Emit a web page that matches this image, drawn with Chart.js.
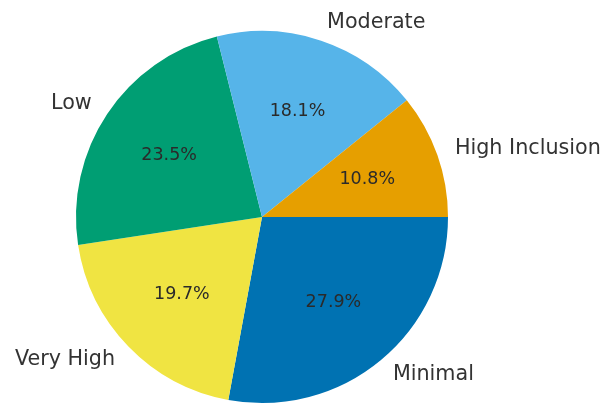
<!DOCTYPE html>
<html>
<head>
<meta charset="utf-8">
<script src="https://cdn.jsdelivr.net/npm/chart.js@4.4.1/dist/chart.umd.min.js"></script>
<style>
  html, body { margin: 0; padding: 0; background: #fff; }
  canvas { display: block; }
</style>
</head>
<body>
<canvas id="chart1" width="604" height="404"></canvas>
<script>
// slices listed counter-clockwise starting from 3 o'clock
const categories = ['High Inclusion', 'Moderate', 'Low', 'Very High', 'Minimal'];
const shares = [10.8, 18.1, 23.5, 19.7, 27.9];
const colors = ['#E69F00', '#56B4E9', '#009E73', '#F0E442', '#0072B2'];

// Chart.js goes clockwise, so feed the slices in reverse
const labels = categories.slice().reverse();
const values = shares.slice().reverse();
const fills = colors.slice().reverse();

const sliceText = {
  id: 'sliceText',
  afterDatasetsDraw(chart) {
    const ctx = chart.ctx;
    const arcs = chart.getDatasetMeta(0).data;
    ctx.save();
    arcs.forEach((arc, i) => {
      const mid = (arc.startAngle + arc.endAngle) / 2;
      const r = arc.outerRadius;
      const cos = Math.cos(mid), sin = Math.sin(mid);

      // percentage inside the slice
      ctx.font = '17.5px "DejaVu Sans"';
      ctx.fillStyle = '#2a2a2a';
      ctx.textAlign = 'center';
      ctx.textBaseline = 'middle';
      ctx.fillText(values[i].toFixed(1) + '%', arc.x + cos * r * 0.6, arc.y + sin * r * 0.6);

      // category name outside
      ctx.font = '20.7px "DejaVu Sans"';
      ctx.fillStyle = '#333';
      ctx.textAlign = cos >= 0 ? 'left' : 'right';
      ctx.fillText(labels[i], arc.x + cos * r * 1.1, arc.y + sin * r * 1.1);
    });
    ctx.restore();
  }
};

const ctx1 = document.getElementById('chart1').getContext('2d');

new Chart(ctx1, {
  type: 'pie',
  data: {
    labels: labels,
    datasets: [{
      data: values,
      backgroundColor: fills,
      borderWidth: 0
    }]
  },
  options: {
    responsive: false,
    animation: false,
    rotation: 90, // start at 3 o'clock
    layout: {
      padding: { left: 76, right: 156, top: 31, bottom: 1 }
    },
    plugins: {
      legend: { display: false },
      tooltip: { enabled: false }
    }
  },
  plugins: [sliceText]
});
</script>
</body>
</html>
